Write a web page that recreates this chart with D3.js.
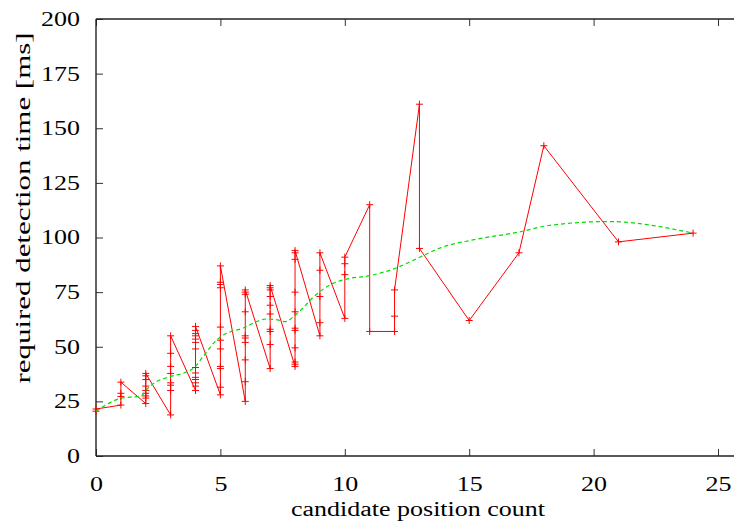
<!DOCTYPE html>
<html>
<head>
<meta charset="utf-8">
<script src="https://cdn.jsdelivr.net/npm/d3@7"></script>
<style>
  html, body { margin: 0; padding: 0; background: #fff; }
  svg { display: block; }
  text { font-family: "Liberation Serif", "Times New Roman", serif; fill: #000; }
</style>
</head>
<body>
<svg id="chart" width="734" height="521"></svg>
<script>
// ---- data ----
const positionCounts = [0, 1, 2, 3, 4, 5, 6, 7, 8, 9, 10, 11, 12, 13, 15, 17, 18, 21, 24];
const detectionTimes = [
  [20.5, 21.5],
  [23.3, 27.2, 28.7, 33.8],
  [24, 26.5, 27.5, 28.7, 30, 32, 35, 36.7, 37.8],
  [18.8, 30, 32.4, 33.5, 37.8, 41, 47, 55],
  [30, 32, 33.5, 35, 36, 38, 40.5, 49, 52, 53.5, 55, 56, 57.5, 59.3],
  [28, 31.5, 40, 41, 49, 53, 59, 77, 78.5, 79.5, 87],
  [25, 34, 44, 52, 54, 55, 66, 74, 75, 76],
  [40, 51, 57, 58, 65, 69, 73, 76, 77, 78],
  [41, 42, 43, 49.5, 57.5, 58.5, 66, 75, 90, 93, 94],
  [55, 61, 73, 85, 93],
  [63, 83, 88, 91],
  [115, 57],
  [57, 64, 76],
  [161, 95],
  [62],
  [93],
  [142],
  [98],
  [102]
];
// smoothed trend (green dashed)
const smoothX = [0, 1, 1.82, 2.02, 2.29, 2.97, 3.6, 3.95, 4.3, 4.85, 5.0, 5.92, 6.86, 7.3, 7.6, 8.06, 8.86, 9.53, 10.2, 10.94, 12.0, 13.2, 13.8, 15.15, 17.0, 18.2, 20.6, 24];
const smoothY = [20.5, 26.4, 27.5, 30.2, 33.0, 36.3, 38.3, 40.5, 45.5, 53.1, 54.5, 58.6, 62.7, 62.3, 61.5, 65.0, 74.0, 79.0, 81.3, 82.4, 85.8, 92.0, 95.1, 98.9, 102.5, 105.5, 107.3, 102];
const xTicks = [0, 5, 10, 15, 20, 25];
const yTicks = [0, 25, 50, 75, 100, 125, 150, 175, 200];
const xTitle = "candidate position count";
const yTitle = "required detection time [ms]";

// ---- chart ----
const W = 734, H = 521;
const svg = d3.select("#chart");
const x = d3.scaleLinear().domain([0, 25]).range([96, 718]);
const y = d3.scaleLinear().domain([0, 200]).range([456, 19]);
const frameRight = 734;
const stretch = 1.3;

function stretchText(sel) {
  sel.each(function () {
    const n = this.getComputedTextLength();
    d3.select(this).attr("textLength", n * stretch).attr("lengthAdjust", "spacingAndGlyphs");
  });
}

// bottom axis (ticks inward)
const gx = svg.append("g").attr("transform", `translate(0,${y(0)})`)
  .call(d3.axisBottom(x).tickValues(xTicks).tickSize(-7).tickSizeOuter(0).tickPadding(21).tickFormat(d3.format("d")));
gx.select(".domain").remove();
gx.selectAll("line").attr("stroke", "#333");
gx.selectAll("text").attr("font-size", 20).call(stretchText);

// top mirror ticks
const gxt = svg.append("g").attr("transform", `translate(0,${y(200)})`)
  .call(d3.axisTop(x).tickValues(xTicks).tickSize(-7).tickSizeOuter(0).tickFormat(""));
gxt.select(".domain").remove();
gxt.selectAll("line").attr("stroke", "#333");

// left axis
const gy = svg.append("g").attr("transform", `translate(${x(0)},0)`)
  .call(d3.axisLeft(y).tickValues(yTicks).tickSize(-7).tickSizeOuter(0).tickPadding(16).tickFormat(d3.format("d")));
gy.select(".domain").remove();
gy.selectAll("line").attr("stroke", "#333");
gy.selectAll("text").attr("font-size", 20).call(stretchText);

// frame (right side lies beyond the picture)
const frame = svg.append("g").attr("stroke", "#222").attr("stroke-width", 1.4).attr("fill", "none");
frame.append("line").attr("x1", x(0)).attr("x2", frameRight).attr("y1", y(0)).attr("y2", y(0));
frame.append("line").attr("x1", x(0)).attr("x2", frameRight).attr("y1", y(200)).attr("y2", y(200));
frame.append("line").attr("x1", x(0)).attr("x2", x(0)).attr("y1", y(0)).attr("y2", y(200));

// titles
svg.append("text").attr("x", 418).attr("y", 516).attr("text-anchor", "middle")
  .attr("font-size", 20).attr("textLength", 254).attr("lengthAdjust", "spacingAndGlyphs").text(xTitle);
svg.append("text").attr("transform", "translate(30,208) rotate(-90)").attr("text-anchor", "middle")
  .attr("font-size", 20).attr("textLength", 351).attr("lengthAdjust", "spacingAndGlyphs").text(yTitle);

// red measurements
const points = [];
positionCounts.forEach((c, i) => detectionTimes[i].forEach(v => points.push([c, v])));

svg.append("path").datum(points)
  .attr("fill", "none").attr("stroke", "#ff0000").attr("stroke-width", 1)
  .attr("d", d3.line().x(d => x(d[0])).y(d => y(d[1])));

svg.append("g").selectAll("path").data(points).join("path")
  .attr("transform", d => `translate(${x(d[0])},${y(d[1])})`)
  .attr("d", "M-3.5,0H3.5M0,-3.5V3.5")
  .attr("stroke", "#ff0000").attr("stroke-width", 1).attr("fill", "none");

// green smoothed trend
const smooth = smoothX.map((v, i) => [v, smoothY[i]]);
svg.append("path").datum(smooth)
  .attr("fill", "none").attr("stroke", "#00dd00").attr("stroke-width", 1.2)
  .attr("stroke-dasharray", "4,3")
  .attr("d", d3.line().curve(d3.curveMonotoneX).x(d => x(d[0])).y(d => y(d[1])));
</script>
</body>
</html>
